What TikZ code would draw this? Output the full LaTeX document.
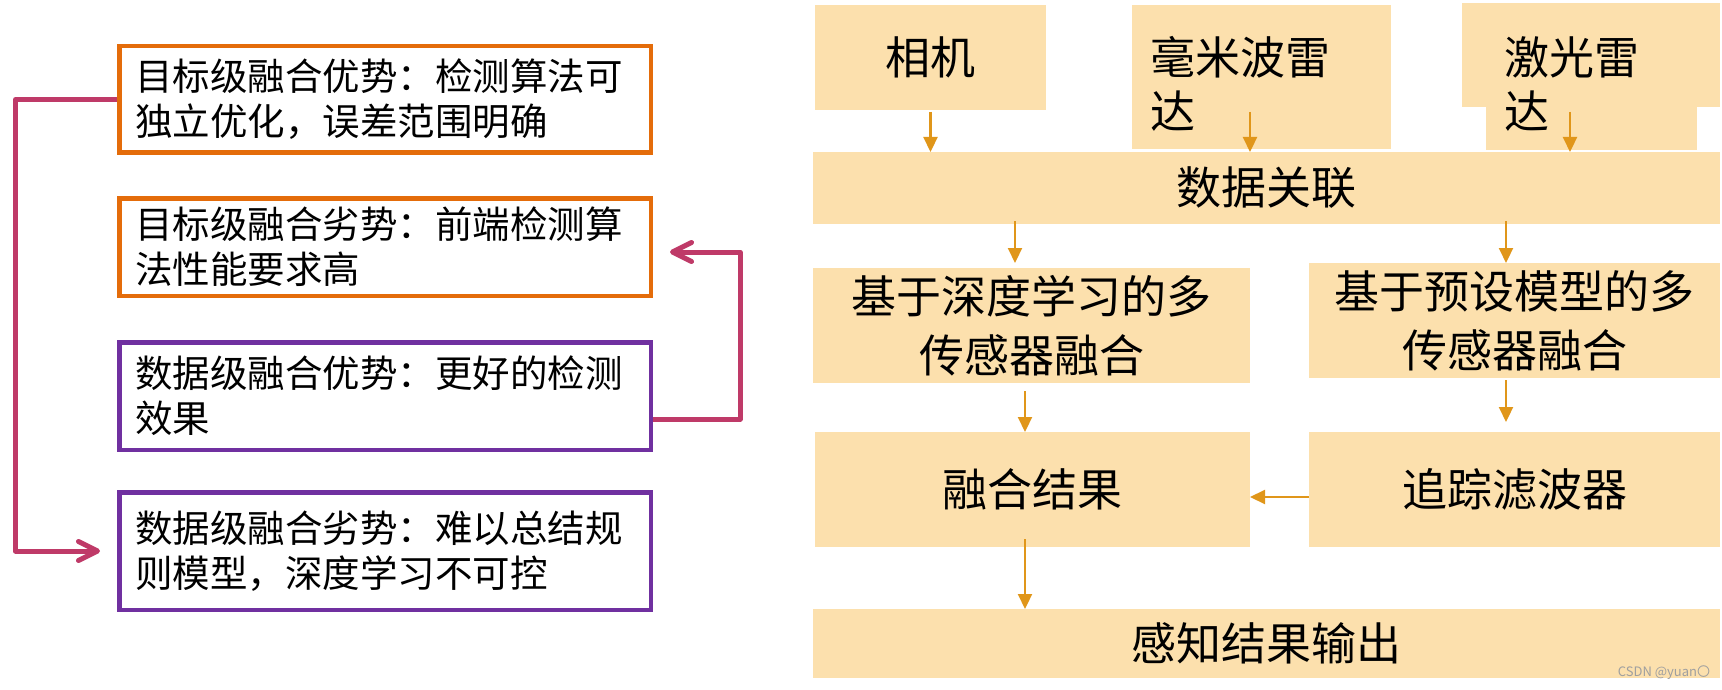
\documentclass[tikz,border=0pt]{standalone}
\usepackage{fontspec}
\setmainfont{Noto Sans CJK SC}
\usepackage{tikz}
\usetikzlibrary{arrows.meta}
\definecolor{boxfill}{HTML}{FCE0AD}
\definecolor{arrowc}{HTML}{E0961A}
\definecolor{objorange}{HTML}{E46C0A}
\definecolor{datapurple}{HTML}{7030A0}
\definecolor{linkpink}{HTML}{BF3A68}
\tikzstyle{note} = [rectangle, line width=4.5pt, minimum width=531.5pt, text width=500pt, inner xsep=15.75pt, align=left, font=\fontsize{37.5}{45}\selectfont]
\tikzstyle{objnote} = [note, draw=objorange]
\tikzstyle{datanote} = [note, draw=datapurple]
\tikzstyle{block} = [rectangle, fill=boxfill, outer sep=0pt, inner sep=0pt, align=center, font=\fontsize{45}{59}\selectfont]
\tikzstyle{sensor} = [block, align=left, inner xsep=18pt, font=\fontsize{45}{54}\selectfont]
\tikzstyle{arrow} = [line width=2.2pt, draw=arrowc, -{Triangle[length=15pt,width=14pt]}]
\tikzstyle{link} = [line width=5pt, draw=linkpink, line join=round, -{Straight Barb[length=19pt,width=19pt,round]}]

\begin{document}
\begin{tikzpicture}[x=1pt, y=-1pt]
\useasboundingbox (0,0) rectangle (1722,690);
% left column
\node (objpro) [objnote, minimum height=106.5pt] at (385,99.5) {目标级融合优势：检测算法可\\独立优化，误差范围明确};
\node (objcon) [objnote, minimum height=97.5pt] at (385,247) {目标级融合劣势：前端检测算\\法性能要求高};
\node (datapro) [datanote, minimum height=107.5pt] at (385,396) {数据级融合优势：更好的检测\\效果};
\node (datacon) [datanote, minimum height=117.5pt] at (385,551) {数据级融合劣势：难以总结规\\则模型，深度学习不可控};
\draw [link] (objpro.west) -- ++(-101.5,0) |- ([xshift=-17pt]datacon.west);
\draw [link] ([yshift=-23pt]datapro.east) -- ++(87,0) |- ([xshift=17pt,yshift=-5pt]objcon.east);
% right column
\fill [boxfill] (1462,3) rectangle (1720,107);
\node (cam) [block, minimum width=231pt, minimum height=105pt] at (930.5,57.5) {相机};
\node (radar) [sensor, minimum width=259pt, minimum height=144pt, text width=223pt, text height=53pt, text depth=57pt] at (1261.5,77) {毫米波雷\\达};
\node (lidar) [sensor, minimum width=211pt, minimum height=147pt, text width=175pt, text height=54pt, text depth=57pt] at (1591.5,76.5) {激光雷\\达};
\node (assoc) [block, minimum width=907pt, minimum height=72pt] at (1266.5,188) {数据关联};
\node (deep) [block, minimum width=437pt, minimum height=115pt] at (1031.5,325.5) {基于深度学习的多\\传感器融合};
\node (preset) [block, minimum width=411pt, minimum height=115pt] at (1514.5,320.5) {基于预设模型的多\\传感器融合};
\node (fusion) [block, minimum width=435pt, minimum height=115pt] at (1032.5,489.5) {融合结果};
\node (tracker) [block, minimum width=411pt, minimum height=115pt] at (1514.5,489.5) {追踪滤波器};
\node (output) [block, minimum width=907pt, minimum height=69pt] at (1266.5,643.5) {感知结果输出};
\node (mark) [font=\fontsize{13}{13}\selectfont, text=gray!75] at (1664,673) {CSDN @yuan〇};
\draw [arrow] ([yshift=-2pt]cam.south) -- (cam.south |- assoc.north);
\draw [arrow] ([xshift=-11.5pt,yshift=37pt]radar.south) -- ([xshift=-11.5pt]radar.south |- assoc.north);
\draw [arrow] ([xshift=-21.5pt,yshift=38pt]lidar.south) -- ([xshift=-21.5pt]lidar.south |- assoc.north);
\draw [arrow] ([xshift=-16.5pt,yshift=3pt]deep.north |- assoc.south) -- ([xshift=-16.5pt,yshift=5pt]deep.north);
\draw [arrow] ([xshift=-8.5pt,yshift=3pt]preset.north |- assoc.south) -- ([xshift=-8.5pt]preset.north);
\draw [arrow] ([xshift=-6.5pt,yshift=-8pt]deep.south) -- ([xshift=-6.5pt]deep.south |- fusion.north);
\draw [arrow] ([xshift=-8.5pt,yshift=-2pt]preset.south) -- ([xshift=-8.5pt,yshift=10pt]preset.south |- tracker.north);
\draw [arrow] ([yshift=-7.5pt]tracker.west) -- ([yshift=-7.5pt]fusion.east);
\draw [arrow] ([xshift=-7.5pt,yshift=8pt]fusion.south) -- ([xshift=-7.5pt]fusion.south |- output.north);
\end{tikzpicture}
\end{document}
